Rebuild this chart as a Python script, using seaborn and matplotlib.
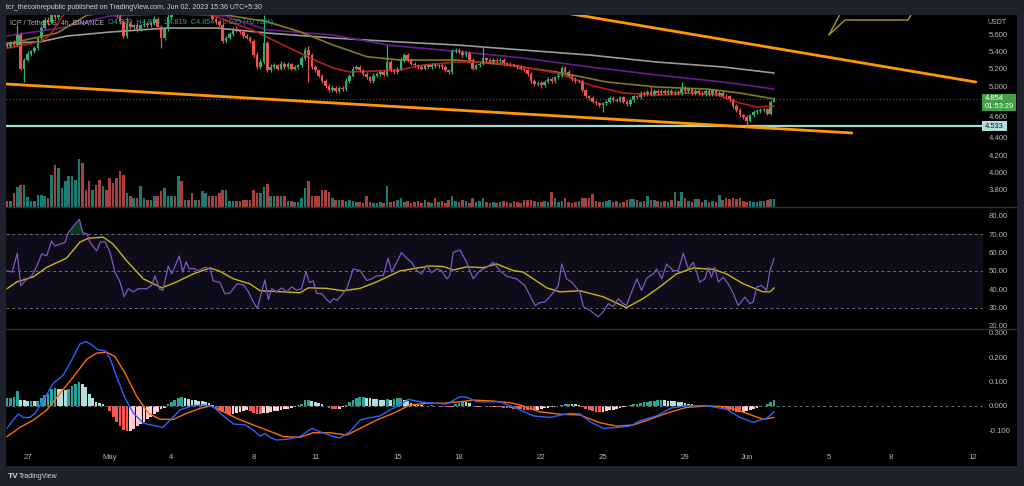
import matplotlib
matplotlib.use("Agg")
import numpy as np
import pandas as pd
import matplotlib.pyplot as plt
from matplotlib import font_manager as fm
from matplotlib.patches import Rectangle
from matplotlib.ticker import FormatStrFormatter
import seaborn as sns

# ---------------------------------------------------------------- data
# ICP/USDT 4h candles, Apr 26 00:00 -> Jun 02 08:00 (6 candles per day)
first_open = 5.48
close_by_day = [
    [5.46, 5.50, 5.47, 5.59, 5.20, 5.30],   # Apr 26
    [5.37, 5.40, 5.44, 5.55, 5.67, 5.76],   # Apr 27
    [5.74, 5.84, 5.80, 5.92, 5.95, 6.02],   # Apr 28
    [6.08, 6.12, 6.18, 6.22, 6.15, 6.10],   # Apr 29
    [6.05, 6.08, 6.02, 5.98, 6.04, 6.00],   # Apr 30
    [5.95, 5.88, 5.82, 5.74, 5.58, 5.72],   # May 1
    [5.68, 5.70, 5.66, 5.70, 5.72, 5.70],   # May 2
    [5.73, 5.78, 5.68, 5.55, 5.66, 5.80],   # May 3
    [5.90, 5.86, 5.96, 5.90, 5.94, 5.92],   # May 4
    [5.88, 5.90, 5.86, 5.92, 5.94, 5.92],   # May 5
    [5.78, 5.74, 5.70, 5.52, 5.56, 5.60],   # May 6
    [5.66, 5.64, 5.62, 5.58, 5.56, 5.52],   # May 7
    [5.36, 5.22, 5.28, 5.50, 5.18, 5.22],   # May 8
    [5.24, 5.20, 5.26, 5.22, 5.25, 5.20],   # May 9
    [5.22, 5.24, 5.32, 5.42, 5.36, 5.22],   # May 10
    [5.18, 5.12, 5.06, 5.00, 4.95, 4.98],   # May 11
    [4.94, 4.98, 4.96, 5.06, 5.12, 5.20],   # May 12
    [5.22, 5.18, 5.14, 5.10, 5.06, 5.12],   # May 13
    [5.14, 5.16, 5.13, 5.28, 5.18, 5.16],   # May 14
    [5.20, 5.30, 5.36, 5.30, 5.26, 5.24],   # May 15
    [5.22, 5.20, 5.24, 5.22, 5.25, 5.23],   # May 16
    [5.24, 5.22, 5.18, 5.16, 5.40, 5.42],   # May 17
    [5.40, 5.36, 5.38, 5.30, 5.20, 5.24],   # May 18
    [5.26, 5.32, 5.30, 5.28, 5.30, 5.29],   # May 19
    [5.30, 5.27, 5.26, 5.25, 5.24, 5.22],   # May 20
    [5.20, 5.18, 5.14, 5.06, 5.02, 5.04],   # May 21
    [5.01, 5.05, 5.08, 5.06, 5.10, 5.12],   # May 22
    [5.21, 5.16, 5.12, 5.08, 5.06, 5.06],   # May 23
    [4.95, 4.88, 4.86, 4.82, 4.80, 4.78],   # May 24
    [4.80, 4.82, 4.86, 4.84, 4.83, 4.87],   # May 25
    [4.82, 4.79, 4.84, 4.88, 4.87, 4.92],   # May 26
    [4.90, 4.93, 4.91, 4.94, 4.92, 4.94],   # May 27
    [4.92, 4.94, 4.92, 4.93, 4.92, 4.98],   # May 28
    [4.94, 4.96, 4.92, 4.94, 4.92, 4.90],   # May 29
    [4.94, 4.91, 4.95, 4.90, 4.92, 4.89],   # May 30
    [4.88, 4.84, 4.77, 4.72, 4.66, 4.64],   # May 31
    [4.60, 4.66, 4.70, 4.71, 4.72, 4.73],   # Jun 1
    [4.68, 4.82, 4.854],                     # Jun 2
]
wick_hi_by_day = [
    [0.02, 0.02, 0.03, 0.11, 0.03, 0.02], [0.03, 0.02, 0.02, 0.02, 0.03, 0.04],
    [0.04, 0.04, 0.03, 0.04, 0.03, 0.03], [0.03, 0.04, 0.03, 0.04, 0.03, 0.02],
    [0.03, 0.02, 0.03, 0.02, 0.03, 0.02], [0.02, 0.03, 0.02, 0.02, 0.02, 0.08],
    [0.03, 0.02, 0.03, 0.02, 0.03, 0.02], [0.02, 0.03, 0.02, 0.03, 0.02, 0.04],
    [0.03, 0.02, 0.03, 0.02, 0.03, 0.02], [0.02, 0.03, 0.02, 0.03, 0.02, 0.02],
    [0.03, 0.02, 0.02, 0.03, 0.02, 0.03], [0.02, 0.03, 0.02, 0.02, 0.02, 0.02],
    [0.02, 0.03, 0.03, 0.32, 0.02, 0.03], [0.03, 0.02, 0.03, 0.02, 0.03, 0.02],
    [0.02, 0.02, 0.03, 0.03, 0.04, 0.02], [0.02, 0.02, 0.02, 0.02, 0.02, 0.03],
    [0.02, 0.02, 0.02, 0.03, 0.02, 0.03], [0.02, 0.02, 0.02, 0.02, 0.02, 0.03],
    [0.02, 0.02, 0.02, 0.19, 0.02, 0.02], [0.02, 0.03, 0.02, 0.02, 0.02, 0.02],
    [0.02, 0.02, 0.02, 0.02, 0.02, 0.02], [0.02, 0.02, 0.02, 0.02, 0.03, 0.02],
    [0.02, 0.02, 0.02, 0.02, 0.02, 0.02], [0.02, 0.13, 0.02, 0.02, 0.02, 0.02],
    [0.02, 0.02, 0.01, 0.02, 0.01, 0.02], [0.02, 0.02, 0.02, 0.02, 0.02, 0.02],
    [0.02, 0.02, 0.02, 0.02, 0.02, 0.03], [0.02, 0.02, 0.02, 0.02, 0.02, 0.02],
    [0.02, 0.02, 0.02, 0.02, 0.02, 0.02], [0.02, 0.02, 0.02, 0.02, 0.02, 0.02],
    [0.02, 0.02, 0.02, 0.02, 0.02, 0.02], [0.02, 0.02, 0.07, 0.02, 0.02, 0.02],
    [0.02, 0.02, 0.02, 0.02, 0.02, 0.07], [0.02, 0.02, 0.02, 0.02, 0.02, 0.02],
    [0.02, 0.02, 0.02, 0.02, 0.02, 0.02], [0.02, 0.02, 0.02, 0.02, 0.02, 0.02],
    [0.02, 0.02, 0.02, 0.02, 0.02, 0.02], [0.02, 0.02, 0.02],
]
wick_lo_by_day = [
    [0.02, 0.02, 0.02, 0.01, 0.02, 0.15], [0.01, 0.02, 0.02, 0.02, 0.02, 0.01],
    [0.04, 0.01, 0.03, 0.02, 0.03, 0.02], [0.02, 0.03, 0.02, 0.03, 0.03, 0.02],
    [0.03, 0.02, 0.03, 0.02, 0.02, 0.03], [0.02, 0.02, 0.03, 0.02, 0.03, 0.02],
    [0.02, 0.02, 0.03, 0.02, 0.02, 0.02], [0.02, 0.02, 0.02, 0.11, 0.02, 0.02],
    [0.02, 0.03, 0.02, 0.02, 0.02, 0.02], [0.02, 0.02, 0.02, 0.02, 0.02, 0.02],
    [0.02, 0.02, 0.02, 0.02, 0.02, 0.02], [0.02, 0.02, 0.02, 0.02, 0.02, 0.02],
    [0.02, 0.02, 0.02, 0.02, 0.02, 0.02], [0.02, 0.02, 0.02, 0.02, 0.02, 0.02],
    [0.02, 0.02, 0.02, 0.02, 0.31, 0.02], [0.02, 0.02, 0.02, 0.02, 0.02, 0.02],
    [0.02, 0.02, 0.02, 0.02, 0.02, 0.02], [0.02, 0.02, 0.02, 0.02, 0.02, 0.02],
    [0.02, 0.02, 0.02, 0.02, 0.02, 0.02], [0.02, 0.02, 0.02, 0.02, 0.02, 0.02],
    [0.02, 0.02, 0.02, 0.02, 0.02, 0.02], [0.02, 0.02, 0.02, 0.02, 0.02, 0.02],
    [0.02, 0.02, 0.02, 0.02, 0.02, 0.02], [0.02, 0.02, 0.02, 0.02, 0.02, 0.02],
    [0.02, 0.02, 0.02, 0.02, 0.02, 0.02], [0.02, 0.02, 0.02, 0.02, 0.02, 0.02],
    [0.03, 0.02, 0.02, 0.02, 0.02, 0.02], [0.02, 0.02, 0.02, 0.02, 0.02, 0.02],
    [0.02, 0.02, 0.02, 0.02, 0.02, 0.02], [0.08, 0.02, 0.02, 0.02, 0.02, 0.02],
    [0.02, 0.02, 0.02, 0.02, 0.02, 0.02], [0.02, 0.02, 0.02, 0.02, 0.02, 0.02],
    [0.02, 0.02, 0.02, 0.02, 0.02, 0.02], [0.02, 0.02, 0.02, 0.02, 0.02, 0.02],
    [0.02, 0.02, 0.02, 0.02, 0.02, 0.02], [0.02, 0.02, 0.02, 0.02, 0.02, 0.02],
    [0.05, 0.02, 0.02, 0.02, 0.02, 0.02], [0.02, 0.02, 0.01],
]
volume_by_day = [   # volume, x10k ICP
    [6, 6, 14, 20, 22, 22], [10, 6, 6, 12, 12, 11], [9, 32, 42, 39, 19, 26],
    [31, 31, 27, 48, 44, 17], [26, 17, 22, 27, 21, 17], [29, 24, 29, 36, 32, 14],
    [11, 9, 9, 21, 9, 7], [7, 11, 11, 16, 19, 11], [11, 11, 31, 26, 7, 7],
    [14, 7, 7, 16, 14, 11], [11, 11, 14, 17, 17, 6], [6, 6, 6, 7, 7, 7],
    [17, 14, 14, 20, 23, 11], [11, 11, 11, 11, 6, 6], [5, 5, 9, 19, 26, 11],
    [11, 11, 17, 17, 15, 9], [7, 7, 7, 6, 7, 6], [5, 5, 4, 11, 5, 4],
    [4, 5, 4, 21, 5, 6], [7, 9, 5, 6, 4, 5], [6, 4, 7, 5, 4, 9],
    [5, 6, 4, 7, 11, 6], [5, 7, 6, 4, 9, 5], [6, 9, 5, 4, 5, 4],
    [5, 6, 5, 4, 6, 5], [4, 7, 7, 7, 6, 5], [5, 6, 5, 15, 9, 5],
    [6, 9, 5, 4, 5, 6], [9, 9, 9, 13, 6, 5], [5, 6, 7, 5, 6, 4],
    [5, 7, 8, 8, 7, 5], [6, 11, 7, 7, 6, 5], [6, 5, 7, 15, 6, 15],
    [9, 6, 5, 8, 8, 5], [7, 5, 6, 5, 12, 7], [9, 8, 9, 8, 9, 6],
    [5, 6, 5, 5, 6, 6], [7, 8, 8],
]
macd_hist_milli_by_day = [
    [30, 33, 36, 59, 25, 22], [21, 21, 20, 20, 30, 45], [50, 70, 72, 70, 68, 65],
    [70, 80, 88, 96, 90, 75], [50, 30, 15, 10, 5, 0], [-20, -45, -65, -85, -100, -105],
    [-104, -95, -85, -75, -65, -55], [-45, -35, -25, -15, -8, 5], [15, 22, 30, 35, 32, 28],
    [25, 22, 20, 18, 15, 10], [3, -10, -18, -25, -32, -37], [-35, -30, -25, -20, -18, -20],
    [-28, -35, -36, -30, -28, -25], [-22, -20, -18, -15, -12, -8], [-4, 2, 8, 22, 22, 20],
    [15, 10, 5, 0, -8, -12], [-14, -12, -6, 4, 15, 25], [32, 36, 36, 32, 30, 28],
    [26, 24, 22, 26, 25, 28], [30, 30, 25, 20, 12, 5], [3, 2, 0, -2, 2, 0],
    [-2, -4, -6, -7, -4, 6], [12, 16, 15, 10, -3, -5], [-4, -3, -4, -5, -4, -5],
    [-6, -8, -9, -10, -12, -14], [-15, -16, -17, -18, -18, -16], [-14, -11, -8, -6, -4, -2],
    [4, 7, 8, 7, 5, 2], [-5, -12, -18, -22, -26, -27], [-25, -22, -19, -16, -12, -9],
    [-6, -3, 2, 5, 8, 11], [14, 17, 19, 21, 22, 23], [22, 21, 20, 18, 16, 14],
    [12, 9, 6, 4, 2, 1], [1, 0, -2, -4, -7, -10], [-14, -18, -22, -25, -27, -26],
    [-22, -18, -14, -10, -6, -3], [8, 16, 23],
]

# moving averages (bar index, price)
ema20_t = [0, 9.6, 12.6, 16.4, 21.3, 35.9, 50.5, 60.1, 65.1, 71.8, 75.9, 88.5, 95.2, 100.1,
           114.7, 121.5, 131.4, 141, 150.7, 160.6, 170.2, 179.9, 189.8, 199.4, 207.3, 214, 219, 224]
ema20_v = [5.439, 5.509, 5.59, 5.82, 5.95, 5.98, 5.92, 5.82, 5.74, 5.647, 5.566, 5.324, 5.208, 5.162,
           5.185, 5.243, 5.277, 5.277, 5.22, 5.15, 5.012, 4.919, 4.896, 4.919, 4.896, 4.803, 4.757, 4.769]
ema50_t = [0, 14.6, 23.4, 35.9, 56.4, 67.2, 75.9, 85.5, 95.2, 105.1, 114.7, 131.4, 146, 160.6,
           175.2, 189.8, 204.4, 214, 224]
ema50_v = [5.486, 5.613, 5.82, 5.88, 5.87, 5.80, 5.744, 5.628, 5.474, 5.339, 5.30, 5.30, 5.243, 5.162,
           5.046, 4.988, 4.965, 4.919, 4.85]
ema100_t = [0, 15.5, 30.1, 47.6, 63.6, 75.9, 95.2, 111.8, 131.4, 150.7, 170.2, 189.8, 209.1, 224]
ema100_v = [5.578, 5.67, 5.81, 5.835, 5.81, 5.65, 5.59, 5.47, 5.40, 5.324, 5.22, 5.127, 5.046, 4.965]
ema200_t = [0, 9.6, 17.5, 30.1, 46.7, 61.3, 75.9, 95.2, 114.7, 131.4, 150.7, 170.2, 189.8, 209.1, 224]
ema200_v = [5.497, 5.509, 5.578, 5.624, 5.67, 5.67, 5.613, 5.555, 5.509, 5.474, 5.416, 5.358, 5.277, 5.22, 5.15]

# RSI(14) and its moving average
rsi_t = [0, 1.5, 3, 4, 5.3, 7.2, 8.7, 10.1, 11.6, 13, 14, 15.5, 16.9, 17.9, 19.9, 21.1, 22.1, 23.4,
         24.2, 26.2, 27.2, 28.6, 30.1, 31.5, 33, 34.2, 35.4, 36.9, 38.3, 40.8, 42.2, 43.2, 44.5, 45.5,
         47.1, 48.1, 50.3, 51.3, 52.3, 53.2, 54.4, 55.9, 57.8, 59.3, 60.2, 62.2, 63.6, 65.1, 66.1, 67.2,
         69, 70.5, 71.9, 73.1, 74.1, 75.3, 76.3, 77.3, 78.7, 80.2, 81.7, 83.1, 84.6, 86, 87.3, 88.3,
         89.4, 90.4, 91.9, 93.1, 94.3, 95.3, 96.4, 97.7, 99.2, 101.1, 103.1, 105, 106.5, 107.9, 109.9,
         111.3, 112.3, 113.8, 115.2, 116.7, 118.2, 119.6, 121.1, 122.5, 124, 125.5, 126.9, 128.4, 129.3,
         130.3, 132.3, 134.2, 136.1, 138.1, 140.1, 142, 143.9, 145.9, 148.8, 151.2, 154.2, 155.6, 157.1,
         159.5, 161, 162, 163.4, 164.9, 167.3, 168.3, 170.2, 172.6, 174.1, 175.6, 177, 178.5, 179.9,
         180.9, 182.4, 183.9, 185.3, 186.8, 188.7, 189.7, 191.2, 192.6, 194.5, 196, 197.5, 198.9, 200.4,
         202.3, 203.8, 204.8, 205.7, 206.7, 207.7, 209.1, 210.6, 212.1, 213.5, 215.5, 216.9, 217.9,
         218.9, 220.4, 221.8, 222.8, 223.6, 224]
rsi_v = [50, 49.4, 59.7, 41.9, 44.6, 47.3, 52.7, 59.2, 58.3, 66.3, 63.6, 64.6, 65.4, 71, 75.4, 78.1, 71, 70.1,
         65.7, 60.9, 65.7, 66, 60.1, 49.4, 44, 36, 40.3, 38.6, 40.3, 40.3, 42, 47.3, 40.3, 39.4,
         52.7, 48.4, 58.1, 49.4, 55, 51.1, 51.4, 50.1, 52, 51.1, 44.6, 43.7, 37.6, 38, 40.3, 43,
         42.5, 38.6, 33.2, 29.5, 36.8, 45.1, 34.3, 40.3, 38.6, 40.7, 38.6, 41.3, 39.5, 40.3, 49.5, 43.7,
         44.6, 37.8, 37.6, 34.9, 32.7, 34.9, 34, 36.8, 40.3, 51.1, 50.2, 44.8, 45.7, 47.3, 47.6,
         57, 49.4, 54.7, 60.1, 56.9, 54.7, 50.2, 48.4, 53, 49, 51.1, 50.2, 45.7, 47.5,
         60.1, 61.5, 54.7, 45.7, 50.2, 52, 54.7, 50.2, 47.1, 45.7, 42.1, 31.2, 32.7, 33.1,
         38.1, 42.1, 53.8, 45.7, 43.9, 38.5, 30.4, 28.5, 25, 27.7, 32.2, 30.4, 34.9, 32.2,
         31.3, 38.5, 45.7, 39.4, 46, 48.4, 51.1, 45.7, 53.8, 50.2, 50.2, 59.7, 51.1, 54.7,
         43.9, 45.7, 52, 46.6, 52, 43.9, 46.6, 43, 37.6, 31.2, 35.8, 32.2, 33.1,
         41.2, 42.1, 39.4, 50.2, 54.7, 56.9]
rsi_ma_t = [0, 2.8, 7.7, 11.6, 17.4, 21.3, 23.7, 28.1, 31, 35, 39.8, 45.2, 49.5, 54.4, 59.3, 62.2,
            66.1, 70.9, 73.9, 80.7, 85.5, 88, 93.3, 98.2, 103.1, 107.9, 114.7, 123.5, 127.4, 130.3,
            134.2, 139.1, 143, 147.8, 150.7, 157.6, 161.5, 167.3, 174.1, 180.9, 185.8, 190.7, 195.5,
            200.4, 206.2, 210.1, 215, 220.8, 222.8, 224]
rsi_ma_v = [40.3, 44, 46.8, 52, 57, 65.7, 67.8, 68.4, 64.6, 55.4, 45.7, 40.8, 44, 48.4, 51.6, 49.8,
            45.7, 43, 39.2, 38.6, 38.1, 40.8, 40.5, 39.2, 40.5, 44, 50, 52.7, 52.4, 50.5,
            52.2, 51.8, 53.8, 50.2, 49.4, 40.8, 38.6, 39.2, 35.9, 30, 35, 41.4, 48.4,
            51.6, 50.9, 48.4, 43, 38.6, 38.6, 40.8]

# MACD (12, 26, 9)
macd_t = [0, 1.8, 3.3, 4.8, 6.7, 8.2, 10.6, 13.5, 16.4, 18.9, 21.3, 23.1, 24.7, 26.7, 28.6, 30.1,
          32, 34.5, 36.9, 39.8, 42.7, 45.5, 47.6, 50.5, 53.9, 57.3, 60.2, 63.2, 66.1, 69.5, 71.9,
          73.9, 75.3, 76.8, 78.7, 81.7, 85.5, 89, 91.4, 95.3, 97.2, 100.1, 103.1, 105, 108.9, 111.8,
          114.7, 117.2, 120.6, 124.5, 128.4, 132.3, 134.2, 137.1, 142, 143.9, 148.8, 153.7, 158.5,
          164.4, 167.3, 170.2, 174.1, 178.9, 181.9, 184.8, 189.7, 193.6, 198.4, 204.3, 210.1, 214,
          217.9, 221.8, 224]
macd_v = [-0.093, -0.059, -0.034, -0.049, -0.048, -0.031, 0.023, 0.092, 0.126, 0.188, 0.254, 0.263,
          0.25, 0.229, 0.226, 0.195, 0.119, 0.03, -0.031, -0.072, -0.081, -0.089, -0.059, -0.018,
          -0.001, 0.003, -0.004, -0.042, -0.075, -0.079, -0.1, -0.125, -0.114, -0.13, -0.141, -0.138,
          -0.127, -0.093, -0.107, -0.127, -0.132, -0.107, -0.059, -0.052, -0.042, -0.018, 0.003,
          0.026, 0.016, 0.01, 0.007, 0.037, 0.035, 0.016, 0.016, 0.016, -0.011, -0.042, -0.048,
          -0.031, -0.034, -0.066, -0.093, -0.089, -0.084, -0.062, -0.042, -0.011, 0.0, 0.0, -0.015,
          -0.048, -0.068, -0.052, -0.025]
signal_t = [0, 3.8, 7.7, 11.6, 15.5, 19.4, 23.3, 26.2, 29.1, 31.5, 34.5, 37.9, 41.3, 44.7, 48.6,
            52.5, 56.4, 59.3, 63.2, 67.1, 71.9, 75.8, 80.7, 85.5, 89.4, 94.3, 99.2, 103.1, 107.9,
            112.8, 117.7, 122.5, 127.4, 132.3, 136.1, 142, 146.9, 149.8, 155.6, 161.5, 167.3, 173.1,
            178, 182.9, 187.7, 192.6, 198.4, 204.3, 210.1, 215.9, 220.8, 224]
signal_v = [-0.127, -0.089, -0.059, -0.018, 0.051, 0.119, 0.191, 0.216, 0.22, 0.202, 0.133, 0.037,
            -0.031, -0.056, -0.056, -0.031, -0.011, -0.001, -0.025, -0.052, -0.079, -0.1, -0.127,
            -0.13, -0.111, -0.111, -0.121, -0.093, -0.059, -0.031, 0.003, 0.01, 0.01, 0.016, 0.023,
            0.019, 0.012, 0.003, -0.025, -0.035, -0.038, -0.07, -0.084, -0.079, -0.056, -0.031,
            -0.007, -0.001, -0.004, -0.031, -0.056, -0.048]

# drawings
trend_low_t, trend_low_p = [-0.3, 246.7], [5.023, 4.457]
trend_up_t, trend_up_p = [160, 282.9], [5.865, 5.046]
callout_a_t, callout_a_p = [240, 243.4], [5.59, 5.84]
callout_b_t, callout_b_p = [240, 244.7, 263.1, 264.2], [5.59, 5.763, 5.763, 5.84]
support_level = 4.533
last_price = 4.854

date_tick_pos = [6, 30, 48, 72, 90, 114, 132, 156, 174, 198, 216, 240, 258, 282]
date_tick_lab = ["27", "May", "4", "8", "11", "15", "18", "22", "25", "29", "Jun", "5", "8", "12"]
price_ticks = [3.8, 4.0, 4.2, 4.4, 4.6, 5.0, 5.2, 5.4, 5.6]   # 4.800 is hidden behind the price tag
rsi_ticks = [20, 30, 40, 50, 60, 70, 80]
macd_ticks = [-0.1, 0.0, 0.1, 0.2, 0.3]

# ---------------------------------------------------------------- derived series
def flat(rows):
    return np.array([v for r in rows for v in r], dtype=float)

closes = flat(close_by_day)
n = len(closes)
bars = np.arange(n)
opens = np.concatenate([[first_open], closes[:-1]])
highs = np.maximum(opens, closes) + flat(wick_hi_by_day)
lows = np.minimum(opens, closes) - flat(wick_lo_by_day)
volume = flat(volume_by_day)
hist = flat(macd_hist_milli_by_day) / 1000.0
up = closes >= opens

# ---------------------------------------------------------------- style
sns.set_theme(style="dark", rc={"axes.facecolor": "black", "figure.facecolor": "#1e222d"})
plt.rcParams["font.family"] = ["Liberation Sans", "DejaVu Sans"]
FP = fm.FontProperties(family=["Liberation Sans", "DejaVu Sans"])

TXT = "#b2b5be"
UP, DN = "#33ad72", "#ef5350"
VUP, VDN = "#1a7d72", "#a8403f"

W, H = 1024, 486
fig = plt.figure(figsize=(W / 100, H / 100), dpi=100)
fig.patch.set_facecolor("#1e222d")

def fx(p):
    return p / W

def fy(p):
    return 1 - p / H

def axes_px(x0, y0, x1, y1):
    return fig.add_axes([fx(x0), fy(y1), (x1 - x0) / W, (y1 - y0) / H])

fig.add_artist(Rectangle((fx(6), fy(466)), 1011 / W, 451 / H, transform=fig.transFigure,
                         facecolor="black", edgecolor="none", zorder=-10))

ax_v = axes_px(6, 15, 983, 207)
ax_p = axes_px(6, 15, 983, 207)
ax_p.patch.set_alpha(0)
ax_r = axes_px(6, 208, 983, 328)
ax_m = axes_px(6, 330, 983, 450)

XL = (-0.3, 285)

# volume
ax_v.bar(bars, volume, width=0.75, color=np.where(up, VUP, VDN), linewidth=0)
ax_v.set_ylim(0, volume.max() * 4.0)

# moving averages
for t, v, c in [(ema200_t, ema200_v, "#9a9a9a"), (ema100_t, ema100_v, "#6a1b8a"),
                (ema50_t, ema50_v, "#857a1c"), (ema20_t, ema20_v, "#b71c1c")]:
    sns.lineplot(x=t, y=v, ax=ax_p, color=c, linewidth=1.2, legend=False)

# lines / drawings
ax_p.axhline(last_price, color="#1f7a34", lw=0.8, ls=(0, (1, 2)))
ax_p.axhline(support_level, color="#a6d8d2", lw=1.6)
ax_p.plot(trend_low_t, trend_low_p, color="#ff9800", lw=2, solid_capstyle="round")
ax_p.plot(trend_up_t, trend_up_p, color="#ff9800", lw=2, solid_capstyle="round")
ax_p.plot(callout_a_t, callout_a_p, color="#a8982a", lw=1)
ax_p.plot(callout_b_t, callout_b_p, color="#a8982a", lw=1)

# candles
cols = np.where(up, UP, DN)
ax_p.vlines(bars, lows, highs, colors=cols, lw=0.9)
body = np.maximum(np.abs(closes - opens), 0.006)
ax_p.bar(bars, body, bottom=np.minimum(opens, closes), width=0.75, color=cols, linewidth=0)
ax_p.set_ylim(3.601, 5.821)

# RSI
ax_r.axhspan(30, 70, color="#0f0c1a", lw=0)
for lv in (70, 50, 30):
    ax_r.axhline(lv, color="#6b6e78", lw=0.7, ls=(0, (3, 3)))
rv = np.array(rsi_v)
ax_r.fill_between(rsi_t, rv, 70, where=rv > 70, interpolate=True, color="#0b3a1e", lw=0)
sns.lineplot(x=rsi_ma_t, y=rsi_ma_v, ax=ax_r, color="#c9b512", linewidth=1.0, legend=False)
sns.lineplot(x=rsi_t, y=rsi_v, ax=ax_r, color="#7e57c2", linewidth=0.9, legend=False, sort=False)
ax_r.set_ylim(18.9, 84.3)

# MACD
hcols = []
prev = 0.0
for h in hist:
    if h >= 0:
        hcols.append("#26a69a" if h >= prev else "#b2dfdb")
    else:
        hcols.append("#ffcdd2" if h > prev else "#ff5252")
    prev = h
ax_m.axhline(0, color="#6b6e78", lw=0.7, ls=(0, (3, 3)))
ax_m.bar(bars, hist, width=0.8, color=hcols, linewidth=0)
sns.lineplot(x=signal_t, y=signal_v, ax=ax_m, color="#ff6d00", linewidth=1.0, legend=False)
sns.lineplot(x=macd_t, y=macd_v, ax=ax_m, color="#2962ff", linewidth=1.0, legend=False)
ax_m.set_ylim(-0.182, 0.311)

# axes cosmetics
for ax in (ax_v, ax_p, ax_r, ax_m):
    ax.set_xlim(*XL)
    ax.grid(False)
    for s in ax.spines.values():
        s.set_visible(False)
    ax.set_xlabel("")
    ax.set_ylabel("")
ax_v.set_xticks([])
ax_v.set_yticks([])
for ax, ticks, fmt in [(ax_p, price_ticks, "%.3f"), (ax_r, rsi_ticks, "%.2f"), (ax_m, macd_ticks, "%.3f")]:
    ax.yaxis.tick_right()
    ax.set_yticks(ticks)
    ax.yaxis.set_major_formatter(FormatStrFormatter(fmt))
    ax.tick_params(axis="y", length=0, pad=4, labelsize=5.6, labelcolor=TXT)
ax_p.set_xticks([])
ax_r.set_xticks([])
ax_m.set_xticks(date_tick_pos)
ax_m.set_xticklabels(date_tick_lab)
ax_m.tick_params(axis="x", length=0, pad=3, labelsize=5.6, labelcolor=TXT)
# the 4.600 label sits just above the 4.533 price tag
ax_p.get_yticklabels()[price_ticks.index(4.6)].set_va("bottom")

# pane separators
for yy in (207.5, 329):
    fig.add_artist(plt.Line2D([fx(6), fx(1017)], [fy(yy), fy(yy)], transform=fig.transFigure,
                              color="#2a2e39", lw=1, zorder=5))

# texts
renderer = fig.canvas.get_renderer()

def ftext(x, y, s, size, color, target=None, min_size=5.0, **kw):
    t = fig.text(fx(x), fy(y), s, fontproperties=FP, color=color, va="center", ha="left", **kw)
    t.set_fontsize(size)
    if target:
        w = t.get_window_extent(renderer=renderer).width
        if w > target:
            t.set_fontsize(max(min_size, size * target / w))
    return t

ftext(6, 7.5, "tcr_thecoinrepublic published on TradingView.com, Jun 02, 2023 15:36 UTC+5:30",
      5.8, "#d1d4dc", target=250)
t1 = ftext(10, 23, "ICP / TetherUS, 4h, BINANCE", 5.6, TXT, target=88, zorder=20)
ax_p.annotate("O4.820  H4.874  L4.819  C4.854  +0.035 (+0.73%)", xy=(1, 0.5), xycoords=t1,
              xytext=(3, 0), textcoords="offset points", fontproperties=FP, fontsize=5.3,
              color="#26a69a", va="center", ha="left", annotation_clip=False, zorder=20)
ftext(988, 22, "USDT", 5.4, TXT, target=18)

fig.add_artist(Rectangle((fx(982), fy(111)), 34 / W, 17 / H, transform=fig.transFigure,
                         facecolor="#43a047", edgecolor="none", zorder=30))
ftext(985, 98.5, "4.854", 5.6, "white", target=19, zorder=31)
ftext(985, 106.5, "01:53:29", 5.6, "white", target=29, zorder=31)
fig.add_artist(Rectangle((fx(982), fy(131)), 25 / W, 10 / H, transform=fig.transFigure,
                         facecolor="#b2dfdb", edgecolor="none", zorder=30))
ftext(985, 126.5, "4.533", 5.4, "#131722", target=19, zorder=31)

ftext(8, 476, "TV", 6, "#d1d4dc", weight="bold")
ftext(19, 476, "TradingView", 5.8, "#d1d4dc", target=32)

fig.savefig("out.png", dpi=100, facecolor=fig.get_facecolor())
